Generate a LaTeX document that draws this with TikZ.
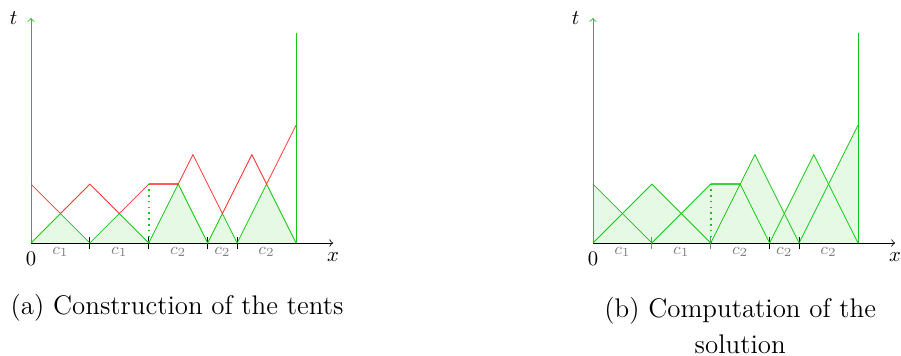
\documentclass[tikz,border=0pt]{standalone}
\usepackage{amsmath}
\usepackage{amssymb}
\usepackage{tikz}
\usetikzlibrary{calc}
\usepackage[dvipsnames,svgnames]{xcolor}

\definecolor{tentgreen}{RGB}{20,200,20}
\definecolor{tentred}{RGB}{255,50,50}

\begin{document}
\begin{tikzpicture}[
    tent/.style={tentgreen},
    front/.style={tentred},
    shade/.style={fill=tentgreen,opacity=.11},
    cell/.style={below,gray,font=\footnotesize,inner sep=2pt},
    caption/.style={font=\fontsize{13}{17}\selectfont}]

    \useasboundingbox (-0.526,-1.918) rectangle (14.77,4.125);

    % Sumbu untuk kedua gambar
    \foreach \sx/\p in {0/a,9.54/b} {
    \begin{scope}[xshift=\sx cm]
    \draw[->] (0,0)--(5.13,0) node[below,yshift=-1pt] (x\p) {$x$};
    \draw[tent,->] (0,0)--(0,3.82);
    \node[left,xshift=-3pt] (t\p) at (0,3.82) {$t$};
    \node[below,yshift=-1pt] (o\p) at (0,0) {$0$};
    \draw[tent] (4.5,0)--(4.5,3.56);
    % Label sel
    \foreach \m/\c in {0.5/1,1.5/1,2.5/2,3.25/2,4/2}
        \node[cell] (c\p\m) at (\m,0) {$c_{\c}$};
    \end{scope}
    }

    % (a) Membangun tenda
    \foreach \m in {1,2,3,3.5}
        \draw (\m,-0.11)--(\m,0.11);
    \fill[shade] (0,0)--(0.5,0.5)--(1,0)--(1.5,0.5)--(2,0)--(2.5,1)--(3,0)--(3.25,0.5)--(3.5,0)--(4,1)--(4.5,0)--cycle;
    \draw[tent] (0,0)--(0.5,0.5)--(1,0)--(1.5,0.5)--(2,0)--(2.5,1)--(3,0)--(3.25,0.5)--(3.5,0)--(4,1)--(4.5,0);
    \draw[front] (0,1)--(0.5,0.5)--(1,1)--(1.5,0.5)--(2,1)--(2.5,1)--(2.75,1.5)--(3.25,0.5)--(3.75,1.5)--(4,1)--(4.5,2);
    \draw[front,line width=1.2pt,opacity=.7] (2,1)--(2.5,1);
    \draw[tent,dotted,thick] (2,0)--(2,1);
    \draw[tent] (0,0)--(0,1);
    \node[caption] (capa) at (2.48,-1.10) {(a) Construction of the tents};

    % (b) Menghitung solusi
    \begin{scope}[xshift=9.54cm]
    \foreach \m/\k in {1/gray,2/gray,3/black,3.5/black}
        \draw[\k] (\m,-0.11)--(\m,0.11);
    \fill[shade] (0,0)--(0,1)--(0.5,0.5)--(1,1)--(1.5,0.5)--(2,1)--(2.5,1)--(2.75,1.5)--(3.25,0.5)--(3.75,1.5)--(4,1)--(4.5,2)--(4.5,0)--cycle;
    \draw[tent] (0,1)--(1,0)--(2,1)--(2.5,1)--(3,0)--(3.75,1.5)--(4.5,0);
    \draw[tent] (0,0)--(1,1)--(2,0)--(2.75,1.5)--(3.5,0)--(4.5,2);
    \draw[tent,line width=1.2pt,opacity=.7] (2,1)--(2.5,1);
    \draw[tent,dotted,thick] (2,0)--(2,1);
    \end{scope}
    \node[caption,align=center] (capb) at (12.04,-1.40) {(b) Computation of the\\solution};

\end{tikzpicture}
\end{document}
